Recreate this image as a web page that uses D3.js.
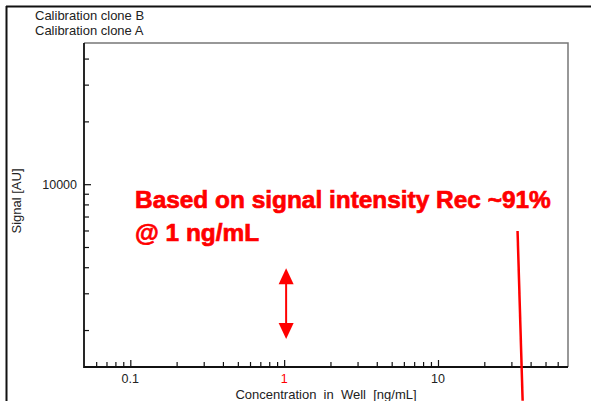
<!DOCTYPE html>
<html><head><meta charset="utf-8">
<script src="https://cdn.jsdelivr.net/npm/d3@7"></script>
<style>body{margin:0;background:#fff}svg{display:block}text{font-family:"Liberation Sans",Arial,sans-serif}</style>
</head><body><svg id="c" width="591" height="401"></svg>
<script>
const legendLabels = ["Calibration clone B", "Calibration clone A"];
const xDomain = [0.05, 70];
const yDomain = [1330, 47500];
const xMajorTicks = [0.1, 1, 10];
const xMinorTicks = [0.06,0.07,0.08,0.09,0.2,0.3,0.4,0.5,0.6,0.7,0.8,0.9,2,3,4,5,6,7,8,9,20,30,40,50,60];
const yMajorTicks = [10000];
const yMinorTicks = [2000,3000,4000,5000,6000,7000,8000,9000,20000,30000,40000];
const xTickLabels = ["0.1", "1", "10"];
const yTickLabels = ["10000"];
const xTitle = "Concentration\u00a0 in\u00a0 Well\u00a0 [ng/mL]";
const yTitle = "Signal [AU]";
const noteLines = ["Based on signal intensity Rec ~91%", "@ 1 ng/mL"];
const arrowX = 1.03, arrowY = [3950, 1810];
const redLineX = [32.9, 35.5], redLineY = [5960, 916];

const svg = d3.select("#c");
const L = 84, R = 568, T = 43, B = 367;
const x = d3.scaleLog().domain(xDomain).range([L, R]);
const y = d3.scaleLog().domain(yDomain).range([B, T]);

// outer frame
svg.append("line").attr("x1",6).attr("x2",591).attr("y1",6.5).attr("y2",6.5).attr("stroke","#111").attr("stroke-width",2);
svg.append("line").attr("x1",6.5).attr("x2",6.5).attr("y1",6).attr("y2",401).attr("stroke","#111").attr("stroke-width",2);

// legend
legendLabels.forEach((t,i)=>svg.append("text").attr("x",35).attr("y",20+i*14.5).attr("font-size",13).attr("fill","#222").text(t));

// plot box top/right
svg.append("path").attr("d",`M${L},${T}H${R}V${B}`).attr("fill","none").attr("stroke","#777").attr("stroke-width",1.5);

// x axis
const xa = svg.append("g").attr("transform",`translate(0,${B})`)
  .call(d3.axisTop(x).tickValues(xMinorTicks).tickSize(5).tickFormat(""));
xa.select(".domain").remove();
xa.selectAll("line").attr("stroke","#111").attr("stroke-width",1.2);
const xb = svg.append("g").attr("transform",`translate(0,${B})`)
  .call(d3.axisTop(x).tickValues(xMajorTicks).tickSize(7).tickFormat(""));
xb.select(".domain").remove();
xb.selectAll("line").attr("stroke","#111").attr("stroke-width",1.2);
xMajorTicks.forEach((v,i)=>svg.append("text").attr("x",x(v)).attr("y",383).attr("text-anchor","middle")
  .attr("font-size",12.5).attr("fill", xTickLabels[i]==="1" ? "#ff0000" : "#222").text(xTickLabels[i]));

// y axis
const ya = svg.append("g").attr("transform",`translate(${L},0)`)
  .call(d3.axisRight(y).tickValues(yMinorTicks).tickSize(5).tickFormat(""));
ya.select(".domain").remove();
ya.selectAll("line").attr("stroke","#111").attr("stroke-width",1.2);
const yb = svg.append("g").attr("transform",`translate(${L},0)`)
  .call(d3.axisRight(y).tickValues(yMajorTicks).tickSize(7).tickFormat(""));
yb.select(".domain").remove();
yb.selectAll("line").attr("stroke","#111").attr("stroke-width",1.2);
yMajorTicks.forEach((v,i)=>svg.append("text").attr("x",77).attr("y",y(v)+4.5).attr("text-anchor","end")
  .attr("font-size",12.5).attr("fill","#222").text(yTickLabels[i]));

// axis lines
svg.append("path").attr("d",`M${L},${T}V${B}H${R}`).attr("fill","none").attr("stroke","#111").attr("stroke-width",1.8);

// titles
svg.append("text").attr("x",(L+R)/2).attr("y",398.5).attr("text-anchor","middle").attr("font-size",13).attr("fill","#222").text(xTitle);
svg.append("text").attr("transform","translate(21,201) rotate(-90)").attr("text-anchor","middle").attr("font-size",13).attr("fill","#222").text(yTitle);

// annotation text
const t1 = svg.append("text").attr("x",135).attr("y",208).attr("font-weight","bold").attr("font-size",23)
  .attr("fill","#ff0000").attr("stroke","#ff0000").attr("stroke-width",0.7).text(noteLines[0]);
const w = t1.node().getComputedTextLength();
const fs = 23*416/w;
t1.attr("font-size",fs);
svg.append("text").attr("x",135).attr("y",241).attr("font-weight","bold").attr("font-size",fs)
  .attr("fill","#ff0000").attr("stroke","#ff0000").attr("stroke-width",0.7).text(noteLines[1]);

// double arrow
const ax = x(arrowX), ay1 = y(arrowY[0]), ay2 = y(arrowY[1]);
svg.append("line").attr("x1",ax).attr("x2",ax).attr("y1",ay1+10).attr("y2",ay2-10).attr("stroke","#ff0000").attr("stroke-width",2);
svg.append("path").attr("d",`M${ax},${ay1}L${ax+7.5},${ay1+16}L${ax-7.5},${ay1+16}Z`).attr("fill","#ff0000");
svg.append("path").attr("d",`M${ax},${ay2}L${ax+7.5},${ay2-16}L${ax-7.5},${ay2-16}Z`).attr("fill","#ff0000");

// red line
svg.append("line").attr("x1",x(redLineX[0])).attr("y1",y(redLineY[0])).attr("x2",x(redLineX[1])).attr("y2",y(redLineY[1]))
  .attr("stroke","#ff0000").attr("stroke-width",2.5);
</script></body></html>
